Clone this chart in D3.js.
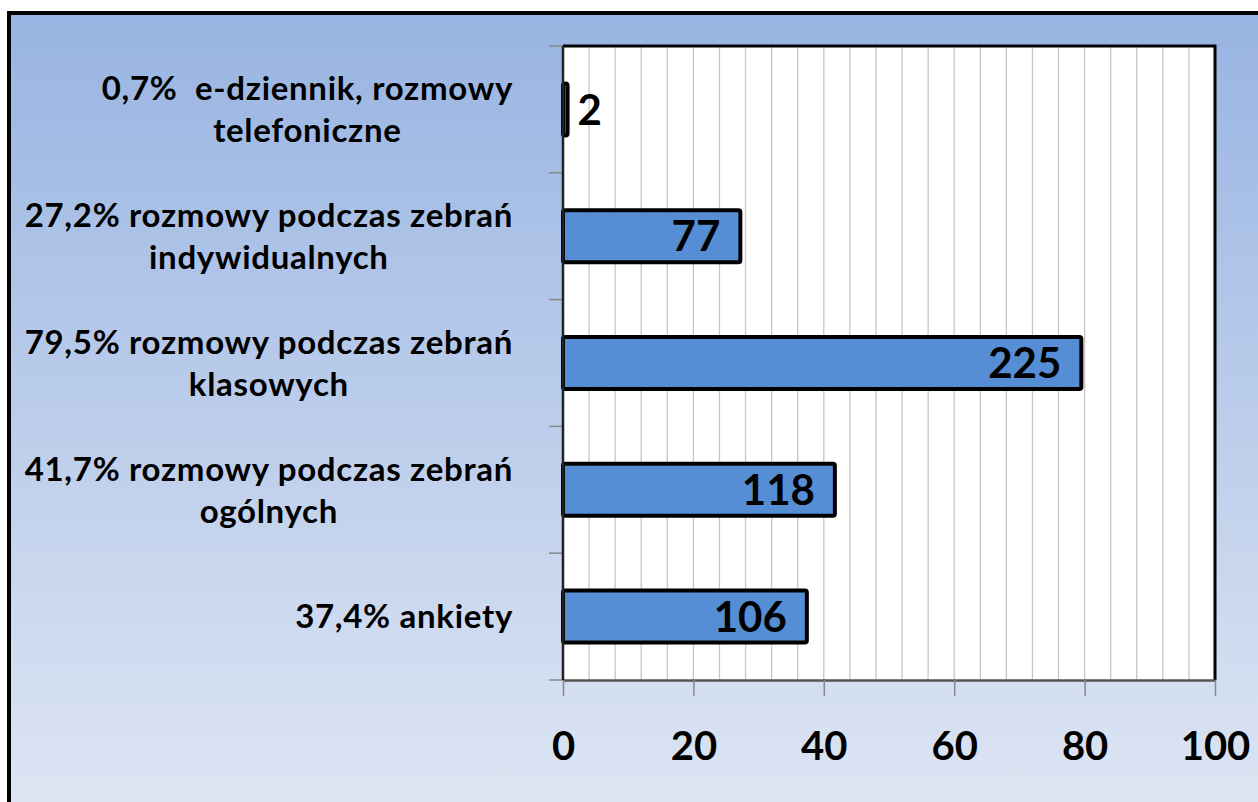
<!DOCTYPE html>
<html>
<head>
<meta charset="utf-8">
<script src="https://cdn.jsdelivr.net/npm/d3@7"></script>
<style>
  html, body { margin: 0; padding: 0; background: #fff; }
  svg { display: block; font-family: Lato, "Open Sans", sans-serif; }
</style>
</head>
<body>
<div id="chart"></div>
<script>
// Category labels (each one split into lines), top to bottom
const categories = [
  ["0,7%  e-dziennik, rozmowy", "telefoniczne"],
  ["27,2% rozmowy podczas zebrań", "indywidualnych"],
  ["79,5% rozmowy podczas zebrań", "klasowych"],
  ["41,7% rozmowy podczas zebrań", "ogólnych"],
  ["37,4% ankiety"]
];
const percents = [0.7, 27.2, 79.5, 41.7, 37.4];
const counts = [2, 77, 225, 118, 106];
const xTickLabels = [0, 20, 40, 60, 80, 100];

const W = 1258, H = 802;
const plot = { left: 563, right: 1215, top: 46, bottom: 680 };

const svg = d3.select("#chart").append("svg")
  .attr("width", W)
  .attr("height", H);

// Background gradient
const defs = svg.append("defs");
const grad = defs.append("linearGradient")
  .attr("id", "bg")
  .attr("x1", 0).attr("y1", 0).attr("x2", 0).attr("y2", 1);
grad.append("stop").attr("offset", "0%").attr("stop-color", "#98b4e2");
grad.append("stop").attr("offset", "100%").attr("stop-color", "#e0e7f4");

svg.append("rect")
  .attr("x", 9).attr("y", 13)
  .attr("width", W + 20).attr("height", H + 20)
  .attr("fill", "url(#bg)")
  .attr("stroke", "#000")
  .attr("stroke-width", 4);

const ids = categories.map((d, i) => i);

const x = d3.scaleLinear().domain([0, 100]).range([plot.left, plot.right]);
const y = d3.scaleBand()
  .domain(ids)
  .range([plot.top, plot.bottom])
  .paddingInner(0.59)
  .paddingOuter(0.295);

// Plot area
svg.append("rect")
  .attr("x", plot.left).attr("y", plot.top)
  .attr("width", plot.right - plot.left)
  .attr("height", plot.bottom - plot.top)
  .attr("fill", "#fff");

// Vertical gridlines
svg.append("g")
  .selectAll("line")
  .data(d3.range(4, 100, 4))
  .join("line")
  .attr("x1", d => x(d)).attr("x2", d => x(d))
  .attr("y1", plot.top).attr("y2", plot.bottom)
  .attr("stroke", "#c6c6c6")
  .attr("stroke-width", 1.3);

// Top and right border of plot area
svg.append("path")
  .attr("d", `M${plot.left},${plot.top}H${plot.right}V${plot.bottom}`)
  .attr("fill", "none")
  .attr("stroke", "#000")
  .attr("stroke-width", 3);

// Bottom (value) axis
const xAxis = svg.append("g")
  .attr("transform", `translate(0,${plot.bottom})`)
  .call(d3.axisBottom(x).tickValues(xTickLabels).tickSize(16).tickSizeOuter(0).tickPadding(36));
xAxis.select(".domain").attr("stroke", "#555").attr("stroke-width", 2.5);
xAxis.selectAll(".tick line").attr("stroke", "#888").attr("stroke-width", 1.5);
xAxis.selectAll(".tick text")
  .attr("font-family", "Lato, sans-serif")
  .attr("font-size", 40)
  .attr("font-weight", "bold")
  .attr("fill", "#000");

// Left (category) axis ticks at band boundaries
const bounds = d3.range(0, categories.length + 1).map(i => plot.top + i * y.step());
svg.append("g")
  .selectAll("line")
  .data(bounds)
  .join("line")
  .attr("x1", plot.left - 14).attr("x2", plot.left)
  .attr("y1", d => d).attr("y2", d => d)
  .attr("stroke", "#888")
  .attr("stroke-width", 1.5);

// Bars
svg.append("g")
  .selectAll("rect")
  .data(ids)
  .join("rect")
  .attr("x", x(0))
  .attr("y", i => y(i))
  .attr("width", i => x(percents[i]) - x(0))
  .attr("height", y.bandwidth())
  .attr("rx", 2)
  .attr("fill", "#558ed5")
  .attr("stroke", "#000")
  .attr("stroke-width", 4);

// Left axis line
svg.append("line")
  .attr("x1", plot.left).attr("x2", plot.left)
  .attr("y1", plot.top).attr("y2", plot.bottom)
  .attr("stroke", "#222")
  .attr("stroke-width", 2.5);

// Value labels
svg.append("g")
  .selectAll("text")
  .data(ids)
  .join("text")
  .attr("x", i => percents[i] < 5 ? x(percents[i]) + 10 : x(percents[i]) - 20)
  .attr("y", i => y(i) + y.bandwidth() / 2)
  .attr("dy", "0.36em")
  .attr("text-anchor", i => percents[i] < 5 ? "start" : "end")
  .attr("font-size", 42)
  .attr("font-weight", "bold")
  .attr("fill", "#000")
  .text(i => counts[i]);

// Category labels: centred lines, block right-aligned to the axis
const labelRight = 513;
const lineH = 42;
const labels = svg.append("g")
  .selectAll("text")
  .data(ids)
  .join("text")
  .attr("font-size", 33)
  .attr("font-weight", "bold")
  .attr("letter-spacing", 0.7)
  .attr("fill", "#000")
  .attr("text-anchor", "middle")
  .style("white-space", "pre");

labels.each(function(i) {
  const t = d3.select(this);
  const lines = categories[i];
  const cy = y(i) + y.bandwidth() / 2;
  const spans = lines.map((s, k) => t.append("tspan")
    .attr("y", cy + (k - (lines.length - 1) / 2) * lineH)
    .attr("dy", "0.36em")
    .text(s));
  const maxW = d3.max(spans, s => s.node().getComputedTextLength());
  spans.forEach(s => s.attr("x", labelRight - maxW / 2));
});
</script>
</body>
</html>
